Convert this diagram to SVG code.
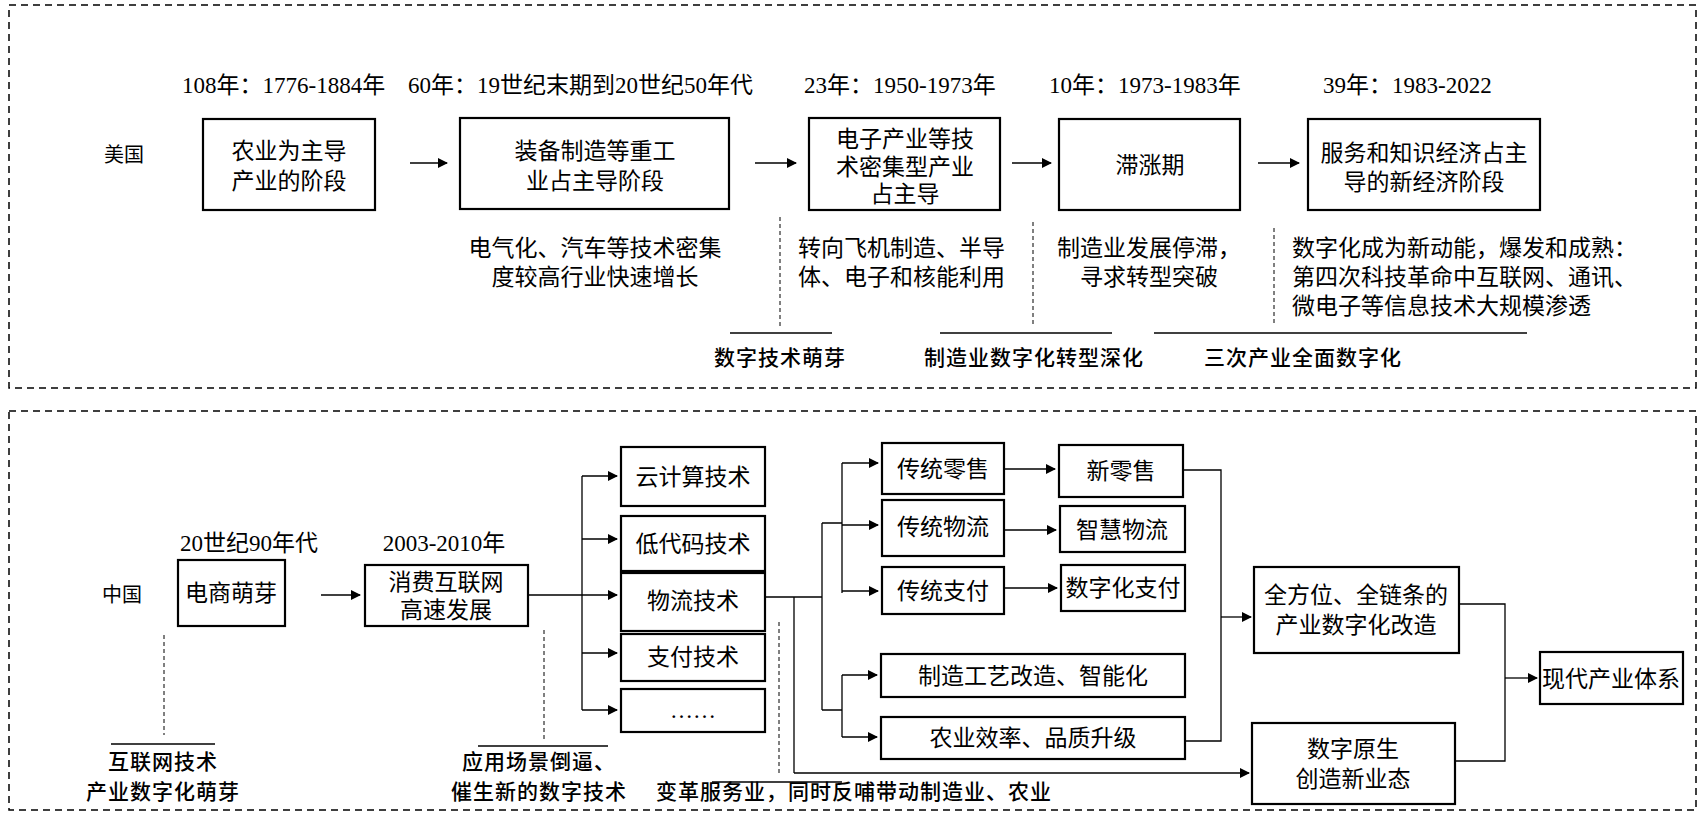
<svg xmlns="http://www.w3.org/2000/svg" width="1703" height="815" viewBox="0 0 1703 815">
<style>
text{font-family:"Liberation Serif","Noto Sans CJK SC",serif;font-size:23px;fill:#000}
.c{text-anchor:middle;dominant-baseline:central}
.l{dominant-baseline:central}
.h{font-family:"Noto Sans CJK SC",sans-serif;font-size:21px;font-weight:500;letter-spacing:1px}
.b{fill:#fff;stroke:#000;stroke-width:2.2}
.ln{stroke:#000;stroke-width:1.3;fill:none}
.ds{stroke:#000;stroke-width:1;fill:none;stroke-dasharray:4 3}
.frame{fill:none;stroke:#000;stroke-width:1.5;stroke-dasharray:7 5}
</style>
<defs><marker id="a" markerWidth="10" markerHeight="10" refX="9" refY="5" orient="auto" markerUnits="userSpaceOnUse"><path d="M0,0L10,5L0,10z" fill="#000"/></marker></defs>
<rect class="frame" x="9" y="5" width="1687" height="383"/>
<rect class="frame" x="9" y="411" width="1687" height="399"/>
<g id="labels-top">
<text class="l" x="182" y="85">108年：1776-1884年</text>
<text class="l" x="408" y="85">60年：19世纪末期到20世纪50年代</text>
<text class="l" x="804" y="85">23年：1950-1973年</text>
<text class="l" x="1049" y="85">10年：1973-1983年</text>
<text class="l" x="1323" y="85">39年：1983-2022</text>
<text class="l" x="104" y="155" style="font-size:20px">美国</text>
<text class="c" x="595" y="248">电气化、汽车等技术密集</text>
<text class="c" x="595" y="277">度较高行业快速增长</text>
<text class="l" x="798" y="248">转向飞机制造、半导</text>
<text class="l" x="798" y="277">体、电子和核能利用</text>
<text class="c" x="1149" y="248">制造业发展停滞，</text>
<text class="c" x="1149" y="277">寻求转型突破</text>
<text class="l" x="1292" y="248">数字化成为新动能，爆发和成熟：</text>
<text class="l" x="1292" y="277">第四次科技革命中互联网、通讯、</text>
<text class="l" x="1292" y="306">微电子等信息技术大规模渗透</text>
<text class="c h" x="780" y="356">数字技术萌芽</text>
<text class="c h" x="1034" y="356">制造业数字化转型深化</text>
<text class="c h" x="1303" y="356">三次产业全面数字化</text>
</g>
<g id="n1"><rect class="b" x="203" y="119" width="172" height="91"/><text class="c" x="289" y="151">农业为主导</text><text class="c" x="289" y="181">产业的阶段</text></g>
<g id="n2"><rect class="b" x="460" y="118" width="269" height="91"/><text class="c" x="595" y="151">装备制造等重工</text><text class="c" x="595" y="181">业占主导阶段</text></g>
<g id="n3"><rect class="b" x="809" y="118" width="191" height="92"/><text class="c" x="905" y="139">电子产业等技</text><text class="c" x="905" y="167">术密集型产业</text><text class="c" x="905" y="194">占主导</text></g>
<g id="n4"><rect class="b" x="1059" y="119" width="181" height="91"/><text class="c" x="1150" y="165">滞涨期</text></g>
<g id="n5"><rect class="b" x="1308" y="119" width="232" height="91"/><text class="c" x="1424" y="153">服务和知识经济占主</text><text class="c" x="1424" y="182">导的新经济阶段</text></g>
<g id="labels-bottom">
<text class="l" x="102" y="595" style="font-size:20px">中国</text>
<text class="c" x="249" y="543">20世纪90年代</text>
<text class="c" x="444" y="543">2003-2010年</text>
<text class="c h" x="163" y="760">互联网技术</text>
<text class="c h" x="163" y="790">产业数字化萌芽</text>
<text class="l h" x="462" y="760">应用场景倒逼、</text>
<text class="l h" x="451" y="790">催生新的数字技术</text>
<text class="l h" x="656" y="790">变革服务业，同时反哺带动制造业、农业</text>
</g>
<g id="m1"><rect class="b" x="178" y="560" width="107" height="66"/><text class="c" x="231" y="593">电商萌芽</text></g>
<g id="m2"><rect class="b" x="365" y="565" width="163" height="61"/><text class="c" x="446" y="582">消费互联网</text><text class="c" x="446" y="610">高速发展</text></g>
<g id="t1"><rect class="b" x="621" y="447" width="144" height="59"/><text class="c" x="693" y="477">云计算技术</text></g>
<g id="t2"><rect class="b" x="621" y="516" width="144" height="55"/><text class="c" x="693" y="544">低代码技术</text></g>
<g id="t3"><rect class="b" x="621" y="573" width="144" height="58"/><text class="c" x="693" y="601">物流技术</text></g>
<g id="t4"><rect class="b" x="621" y="634" width="144" height="47"/><text class="c" x="693" y="657">支付技术</text></g>
<g id="t5"><rect class="b" x="621" y="689" width="144" height="43"/><text class="c" x="693" y="710">……</text></g>
<g id="r1"><rect class="b" x="882" y="443" width="122" height="51"/><text class="c" x="943" y="469">传统零售</text></g>
<g id="r2"><rect class="b" x="1059" y="445" width="124" height="52"/><text class="c" x="1121" y="471">新零售</text></g>
<g id="r3"><rect class="b" x="882" y="500" width="122" height="56"/><text class="c" x="943" y="527">传统物流</text></g>
<g id="r4"><rect class="b" x="1060" y="506" width="125" height="46"/><text class="c" x="1122" y="530">智慧物流</text></g>
<g id="r5"><rect class="b" x="882" y="567" width="122" height="47"/><text class="c" x="943" y="591">传统支付</text></g>
<g id="r6"><rect class="b" x="1061" y="565" width="124" height="46"/><text class="c" x="1123" y="588">数字化支付</text></g>
<g id="r7"><rect class="b" x="881" y="654" width="304" height="43"/><text class="c" x="1033" y="676">制造工艺改造、智能化</text></g>
<g id="r8"><rect class="b" x="881" y="717" width="304" height="42"/><text class="c" x="1033" y="738">农业效率、品质升级</text></g>
<g id="s1"><rect class="b" x="1254" y="567" width="205" height="86"/><text class="c" x="1356" y="595">全方位、全链条的</text><text class="c" x="1356" y="625">产业数字化改造</text></g>
<g id="s2"><rect class="b" x="1252" y="723" width="203" height="81"/><text class="c" x="1353" y="749">数字原生</text><text class="c" x="1353" y="779">创造新业态</text></g>
<g id="s3"><rect class="b" x="1540" y="652" width="143" height="52"/><text class="c" x="1611" y="679">现代产业体系</text></g>
<g id="connectors">
<line class="ln" x1="410" y1="163" x2="447" y2="163" marker-end="url(#a)"/>
<line class="ln" x1="755" y1="163" x2="796" y2="163" marker-end="url(#a)"/>
<line class="ln" x1="1012" y1="163" x2="1051" y2="163" marker-end="url(#a)"/>
<line class="ln" x1="1258" y1="163" x2="1299" y2="163" marker-end="url(#a)"/>
<line class="ds" x1="780" y1="217" x2="780" y2="326"/>
<line class="ds" x1="1033" y1="222" x2="1033" y2="326"/>
<line class="ds" x1="1274" y1="228" x2="1274" y2="326"/>
<line class="ln" x1="730" y1="333" x2="832" y2="333"/>
<line class="ln" x1="940" y1="333" x2="1112" y2="333"/>
<line class="ln" x1="1154" y1="333" x2="1527" y2="333"/>
<line class="ln" x1="321" y1="595" x2="360" y2="595" marker-end="url(#a)"/>
<path class="ln" d="M528,595H582M582,476V710"/>
<line class="ln" x1="582" y1="476" x2="617" y2="476" marker-end="url(#a)"/>
<line class="ln" x1="582" y1="539" x2="617" y2="539" marker-end="url(#a)"/>
<line class="ln" x1="582" y1="595" x2="617" y2="595" marker-end="url(#a)"/>
<line class="ln" x1="582" y1="653" x2="617" y2="653" marker-end="url(#a)"/>
<line class="ln" x1="582" y1="710" x2="617" y2="710" marker-end="url(#a)"/>
<path class="ln" d="M765,597H822M822,523V710M822,523H842M822,710H842M842,463V593M842,675V737M794,597V773"/>
<line class="ln" x1="842" y1="463" x2="878" y2="463" marker-end="url(#a)"/>
<line class="ln" x1="842" y1="525" x2="878" y2="525" marker-end="url(#a)"/>
<line class="ln" x1="842" y1="591" x2="878" y2="591" marker-end="url(#a)"/>
<line class="ln" x1="842" y1="675" x2="877" y2="675" marker-end="url(#a)"/>
<line class="ln" x1="842" y1="737" x2="877" y2="737" marker-end="url(#a)"/>
<line class="ln" x1="794" y1="773" x2="1249" y2="773" marker-end="url(#a)"/>
<line class="ln" x1="1004" y1="469" x2="1055" y2="469" marker-end="url(#a)"/>
<line class="ln" x1="1004" y1="530" x2="1056" y2="530" marker-end="url(#a)"/>
<line class="ln" x1="1004" y1="588" x2="1057" y2="588" marker-end="url(#a)"/>
<path class="ln" d="M1183,470H1221V741H1185"/>
<line class="ln" x1="1221" y1="617" x2="1251" y2="617" marker-end="url(#a)"/>
<path class="ln" d="M1459,604H1505V761H1455"/>
<line class="ln" x1="1505" y1="678" x2="1537" y2="678" marker-end="url(#a)"/>
<line class="ds" x1="164" y1="635" x2="164" y2="735"/>
<line class="ds" x1="544" y1="630" x2="544" y2="740"/>
<line class="ds" x1="779" y1="622" x2="779" y2="775"/>
<line class="ln" x1="111" y1="744" x2="215" y2="744"/>
<line class="ln" x1="478" y1="746" x2="608" y2="746"/>
<line class="ln" x1="712" y1="782" x2="842" y2="782"/>
</g>
</svg>
